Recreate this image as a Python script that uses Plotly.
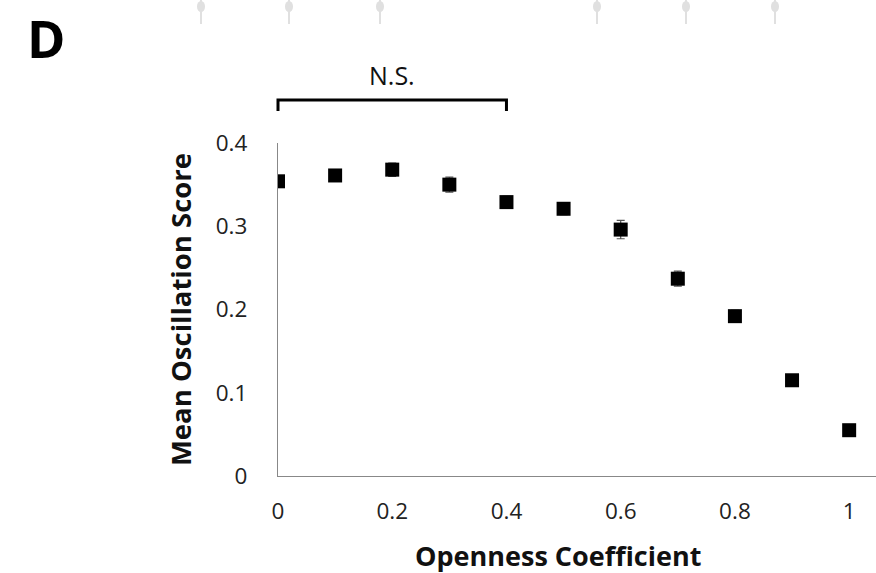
import plotly.graph_objects as go

openness = [0, 0.1, 0.2, 0.3, 0.4, 0.5, 0.6, 0.7, 0.8, 0.9, 1.0]
mean_score = [0.354, 0.361, 0.368, 0.350, 0.329, 0.321, 0.296, 0.237, 0.192, 0.115, 0.055]
score_err = [0.005, 0.006, 0.008, 0.009, 0.007, 0.007, 0.011, 0.009, 0.007, 0.005, 0.003]
x_ticks = [0, 0.2, 0.4, 0.6, 0.8, 1]
x_tick_labels = ["0", "0.2", "0.4", "0.6", "0.8", "1"]
y_ticks = [0, 0.1, 0.2, 0.3, 0.4]
y_tick_labels = ["0", "0.1", "0.2", "0.3", "0.4"]
bracket_span = [0, 0.4]
bracket_label = "N.S."
panel_label = "D"
x_title = "Openness Coefficient"
y_title = "Mean Oscillation Score"

FONT = "Open Sans"
W, H = 876, 573
ML, MR, MT, MB = 278, 0, 143, 97
PW, PH = W - ML - MR, H - MT - MB
XMAX = 1.047


def px_x(px):
    return (px - ML) / PW


def px_y(py):
    return (H - MB - py) / PH


def data_x(v):
    return v / XMAX


fig = go.Figure()
fig.add_trace(go.Scatter(
    x=openness, y=mean_score, mode="markers",
    marker=dict(symbol="square", size=14, color="black"),
    error_y=dict(type="data", array=score_err, visible=True,
                 color="#555555", thickness=1.2, width=4),
    showlegend=False,
))

# N.S. bracket above 0..0.4
b0, b1 = data_x(bracket_span[0]), data_x(bracket_span[1])
ytop, ybot = px_y(100), px_y(111)
fig.add_shape(type="path",
              path=f"M {b0},{ybot} L {b0},{ytop} L {b1},{ytop} L {b1},{ybot}",
              xref="paper", yref="paper", line=dict(color="black", width=3))
fig.add_annotation(x=(b0 + b1) / 2, y=px_y(75), xref="paper", yref="paper",
                   text=bracket_label, showarrow=False,
                   font=dict(family=FONT, size=25, color="#111111"),
                   xanchor="center", yanchor="middle")

# panel label
fig.add_annotation(x=px_x(46), y=px_y(38), xref="paper", yref="paper",
                   text=f"<b>{panel_label}</b>", showarrow=False,
                   font=dict(family=FONT, size=52, color="black"),
                   xanchor="center", yanchor="middle")

# x axis title (centred as in the reference)
fig.add_annotation(x=px_x(558), y=px_y(555), xref="paper", yref="paper",
                   text=f"<b>{x_title}</b>", showarrow=False,
                   font=dict(family=FONT, size=27, color="#111111"),
                   xanchor="center", yanchor="middle")

# faint artifacts from neighbouring panel at top
for px in [201, 289, 380, 597, 686, 775]:
    fig.add_shape(type="line", xref="paper", yref="paper",
                  x0=px_x(px), x1=px_x(px), y0=px_y(24), y1=px_y(0),
                  line=dict(color="#e0e0e0", width=2))
    fig.add_shape(type="circle", xref="paper", yref="paper",
                  x0=px_x(px - 4), x1=px_x(px + 4),
                  y0=px_y(12), y1=px_y(1),
                  fillcolor="#e0e0e0", line=dict(color="#e0e0e0", width=0))

fig.update_layout(
    width=W, height=H,
    margin=dict(l=ML, r=MR, t=MT, b=MB),
    paper_bgcolor="white", plot_bgcolor="white",
    font=dict(family=FONT, color="#222222"),
    xaxis=dict(range=[0, XMAX], tickvals=x_ticks, ticktext=x_tick_labels,
               showgrid=False, zeroline=False, showline=True, linecolor="#888888",
               linewidth=1.2, ticks="", ticklabelstandoff=15,
               tickfont=dict(family=FONT, size=22.5, color="#222222")),
    yaxis=dict(range=[0, 0.4], tickvals=y_ticks, ticktext=y_tick_labels,
               showgrid=False, zeroline=False, showline=True, linecolor="#888888",
               linewidth=1.2, ticks="", ticklabelstandoff=25,
               tickfont=dict(family=FONT, size=22.5, color="#222222"),
               title=dict(text=f"<b>{y_title}</b>", standoff=16,
                          font=dict(family=FONT, size=27.5, color="#111111"))),
)

fig.write_html("out.html")
